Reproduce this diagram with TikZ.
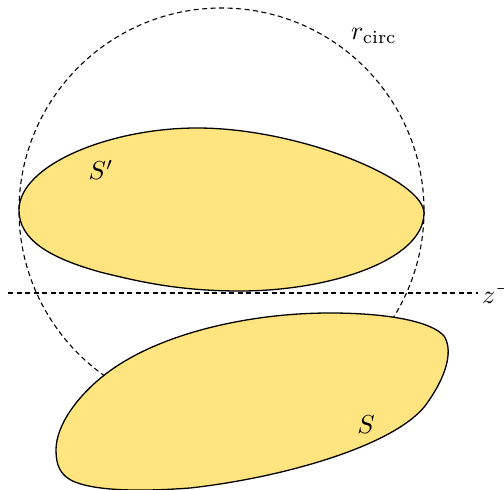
\documentclass[tikz,border=0pt]{standalone}
\definecolor{blob}{RGB}{255,228,128}
\tikzset{
  blobshape/.style={draw=black, line width=1.3pt, fill=blob},
  dashline/.style={draw=black, line width=1.1pt, dash pattern=on 5pt off 3.5pt},
  lbl/.style={inner sep=0pt}
}
\begin{document}
\begin{tikzpicture}[x=1pt,y=-1pt]
\path[use as bounding box] (0,0) rectangle (504,490);
\clip (0,0) rectangle (504,490);
% circle
\coordinate (c) at (221.5,210.5);
\draw[dashline] (c) circle[radius=202.5];
% S'
\draw[blobshape] (19,210) .. controls (19,165) and (110,128) .. (197,128)
  .. controls (300,128) and (424,180) .. (424,213)
  .. controls (424,260) and (330,291) .. (240,291)
  .. controls (180,291) and (140,282) .. (100,272)
  .. controls (50,258) and (19,240) .. (19,210) -- cycle;
% S
\draw[blobshape] (56,450) .. controls (56,425) and (78,395) .. (107,373)
  .. controls (160,333) and (250,313) .. (330,313)
  .. controls (390,313) and (432,322) .. (444,336)
  .. controls (452,348) and (450,372) .. (425,406)
  .. controls (392,447) and (280,478) .. (190,488)
  .. controls (150,491) and (100,492) .. (75,482)
  .. controls (60,476) and (56,465) .. (56,450) -- cycle;
% line
\coordinate (l1) at (8,293);
\coordinate (l2) at (478,293);
\draw[dashline] (l1) -- (l2);
% labels
\node[lbl] (rc) at (374,36) {\scalebox{2.6}{$r_{\mathrm{circ}}$}};
\node[lbl] (sp) at (101,170) {\scalebox{2.6}{$S'$}};
\node[lbl] (s) at (366,425) {\scalebox{2.6}{$S$}};
\node[lbl, anchor=west] (z) at (482,293) {\scalebox{2.6}{$z^{-}$}};
\end{tikzpicture}
\end{document}
